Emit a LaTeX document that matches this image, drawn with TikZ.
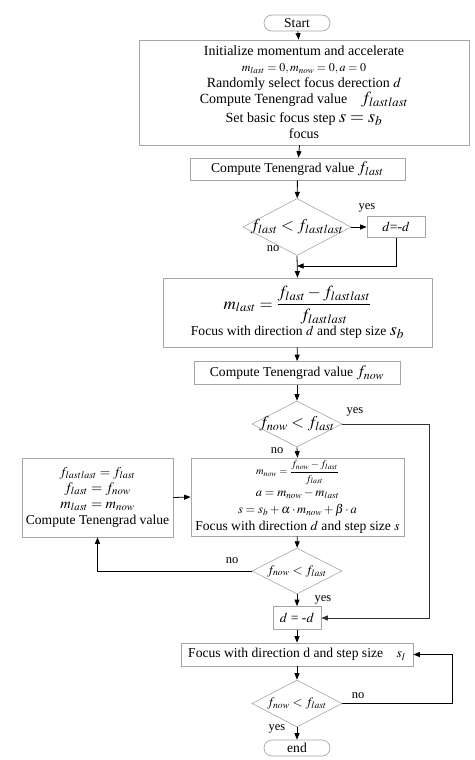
\documentclass[tikz,border=0pt]{standalone}
\usepackage{amsmath}
\usepackage{mathptmx}
\usepackage{fontspec}
\setmainfont{Liberation Serif}
\usetikzlibrary{shapes.geometric,arrows.meta}

\begin{document}
\begin{tikzpicture}[x=1pt,y=-1pt,
  box/.style={draw=gray!70,line width=0.7pt,fill=white,inner sep=1pt,align=center,font=\fontsize{13.6}{16}\selectfont},
  term/.style={box,rounded corners=8pt,minimum width=66pt,minimum height=16pt},
  test/.style={draw=gray!70,line width=0.6pt,diamond,inner sep=0pt,font=\fontsize{13.3}{16}\selectfont},
  arr/.style={-{Triangle[length=6.5pt,width=5pt]},line width=0.8pt},
  lbl/.style={font=\fontsize{12.5}{13}\selectfont,inner sep=1pt}]
\def\cx{297}
\useasboundingbox[fill=white] (0,0) rectangle (474,760);

% start and initialisation
\node[term] (St) at (\cx,23) {Start};
\node[box,minimum width=330pt,minimum height=105pt] (In) at (304,92.5) {%
  {\fontsize{14}{16}\selectfont Initialize momentum and accelerate}\\
  {\fontsize{12}{16}\selectfont $m_{last}=0, m_{now}=0, a=0$}\\
  {\fontsize{14}{16}\selectfont Randomly select focus derection $d$}\\
  {\fontsize{14}{16}\selectfont Compute Tenengrad value\quad{\fontsize{17}{16}\selectfont$f_{lastlast}$}}\\[3pt]
  {\fontsize{14}{16}\selectfont Set basic focus step\ {\fontsize{18}{16}\selectfont$s=s_b$}}\\
  {\fontsize{14}{16}\selectfont focus}};
\node[box,minimum width=215pt,minimum height=22pt] (C1) at (297.5,169) {Compute Tenengrad value\ {\fontsize{16}{16}\selectfont$f_{last}$}};

% first test: direction
\node[test,minimum width=108pt,minimum height=57pt] (T1) at (\cx,227) {\makebox[0pt]{\fontsize{16.5}{16}\selectfont$f_{last}<f_{lastlast}$}};
\node[box,minimum width=58pt,minimum height=21pt] (F1) at (396,227) {$d$=-$d$};
\coordinate (J1) at (\cx,266);
\node[box,minimum width=269pt,minimum height=69pt] (M1) at (297.5,312.5) {%
  {\fontsize{17}{20}\selectfont$m_{last}=\dfrac{f_{last}-f_{lastlast}}{f_{lastlast}}$}\\[1pt]
  Focus with direction $d$ and step size\ {\fontsize{18}{16}\selectfont$s_b$}};
\node[box,minimum width=206pt,minimum height=23pt] (C2) at (\cx,373) {Compute Tenengrad value\ {\fontsize{16}{16}\selectfont$f_{now}$}};

% momentum loop
\node[test,minimum width=90pt,minimum height=46pt] (T2) at (\cx,424) {\makebox[0pt]{\fontsize{16.5}{16}\selectfont$f_{now}<f_{last}$}};
\node[box,minimum width=151pt,minimum height=79pt] (U) at (97.5,497.5) {%
  {\fontsize{13.5}{18}\selectfont$f_{lastlast}=f_{last}$}\\
  {\fontsize{14.5}{18}\selectfont$f_{last}=f_{now}$}\\
  {\fontsize{14.5}{18}\selectfont$m_{last}=m_{now}$}\\
  Compute Tenengrad value};
\node[box,minimum width=213pt,minimum height=78pt] (M2) at (297.5,497) {%
  {\fontsize{10.5}{12}\selectfont$m_{now}=\dfrac{f_{now}-f_{last}}{f_{last}}$}\\[4pt]
  {\fontsize{12.5}{15}\selectfont$a=m_{now}-m_{last}$}\\[1pt]
  {\fontsize{12.5}{15}\selectfont$s=s_b+\alpha\cdot m_{now}+\beta\cdot a$}\\[1pt]
  Focus with direction $d$ and step size $s$};
\node[test,minimum width=90pt,minimum height=46pt] (T3) at (\cx,571) {\makebox[0pt]{\fontsize{13}{13}\selectfont$f_{now}<f_{last}$}};
\node[box,minimum width=48pt,minimum height=23pt] (F2) at (\cx,618) {$d$ = -$d$};
\coordinate (R1) at (429,424);

% fine focusing
\node[box,minimum width=232pt,minimum height=23pt] (Fi) at (\cx,654.5) {Focus with direction d and step size\quad $s_l$};
\node[test,minimum width=90pt,minimum height=47pt] (T4) at (\cx,703.5) {\makebox[0pt]{\fontsize{13}{13}\selectfont$f_{now}<f_{last}$}};
\node[term,minimum height=16pt] (En) at (\cx,748) {end};
\coordinate (R2) at (452,703.5);

% connectors
\draw[arr] (St) -- (In);
\draw[arr] (In) -- (C1);
\draw[arr] (C1) -- (T1);
\draw[arr] (T1.east) -- (F1.west);
\draw[arr] (F1.south) |- (J1);
\draw[arr] (T1.south) -- (M1.north);
\draw[arr] (M1) -- (C2);
\draw[arr] (C2) -- (T2);
\draw[arr,black!80] (T2.east) -- (R1) |- (F2.east);
\draw[arr] (T2.south) -- (M2.north);
\draw[arr] (U.east) -- (M2.west);
\draw[arr] (M2) -- (T3);
\draw[arr] (T3.west) -| (U.south);
\draw[arr] (T3.south) -- (F2.north);
\draw[arr] (F2) -- (Fi);
\draw[arr] (Fi) -- (T4);
\draw[arr] (T4.east) -- (R2) |- (Fi.east);
\draw[arr] (T4.south) -- (En.north);

% yes / no
\node[lbl] at (367,208) {yes};
\node[lbl] at (273,249) {no};
\node[lbl] at (355,412) {yes};
\node[lbl] at (277,451) {no};
\node[lbl] at (232,561) {no};
\node[lbl] at (323,600) {yes};
\node[lbl] at (358,696) {no};
\node[lbl] at (277,729) {yes};
\end{tikzpicture}
\end{document}
